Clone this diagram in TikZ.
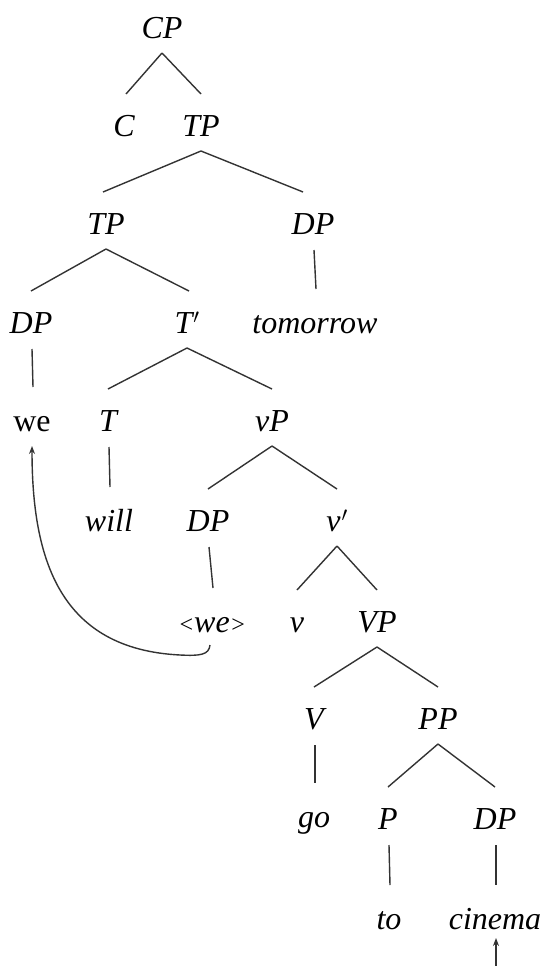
\documentclass[tikz,border=0pt]{standalone}
\usepackage{fontspec}
\setmainfont{Liberation Serif}
\usetikzlibrary{calc,arrows.meta}
\newcommand\treeedge[3][0]{\draw[edge] ($(#2.base)+(0,15)$) -- ($(#3.base)+(#1,-42)$);}
\newcommand\treeline[2]{\draw[edge] ($(#1.base)+(1,16)$) -- ($(#2.base)+(1,-44)$);}
\begin{document}
\begin{tikzpicture}[x=1pt,y=-1pt,
  lab/.style={anchor=base,inner sep=0pt,font=\fontsize{32}{38}\selectfont\itshape},
  word/.style={anchor=base,inner sep=0pt,font=\fontsize{32}{38}\selectfont},
  edge/.style={line width=1.4pt,draw=black!80}]
\useasboundingbox (0,0) rectangle (545,966);
\node[lab] (CP) at (162,38) {CP};
\node[lab] (C) at (124,136) {C};
\node[lab] (TPa) at (201,136) {TP};
\node[lab] (TPb) at (106,234) {TP};
\node[lab] (DPa) at (313,234) {DP};
\node[lab] (DPb) at (31,333) {DP};
\node[lab] (Tbar) at (187,333) {T\kern1pt$'$};
\node[lab] (tomorrow) at (315,333) {tomorrow};
\node[word] (we) at (32,431) {we};
\node[lab] (T) at (108,431) {T};
\node[lab] (vP) at (272,431) {vP};
\node[lab] (will) at (109,531) {will};
\node[lab] (DPc) at (208,531) {DP};
\node[lab] (vbar) at (337,531) {v\kern1pt$'$};
\node[lab] (twe) at (212,632) {{\fontsize{24}{24}\selectfont<}we{\fontsize{24}{24}\selectfont>}};
\node[lab] (v) at (297,632) {v};
\node[lab] (VP) at (377,632) {VP};
\node[lab] (V) at (314,729) {V};
\node[lab] (PP) at (438,729) {PP};
\node[lab] (go) at (314,827) {go};
\node[lab] (P) at (388,829) {P};
\node[lab] (DPd) at (495,829) {DP};
\node[lab] (to) at (389,929) {to};
\node[lab] (cinema) at (495,929) {cinema};
\coordinate (cbot) at (496,966);

\treeedge[2]{CP}{C}
\treeedge{CP}{TPa}
\treeedge[-3]{TPa}{TPb}
\treeedge[-10]{TPa}{DPa}
\treeedge{TPb}{DPb}
\treeedge[2]{TPb}{Tbar}
\treeline{DPa}{tomorrow}
\treeline{DPb}{we}
\treeedge{Tbar}{T}
\treeedge{Tbar}{vP}
\treeline{T}{will}
\treeedge{vP}{DPc}
\treeedge{vP}{vbar}
\treeline{DPc}{twe}
\treeedge{vbar}{v}
\treeedge{vbar}{VP}
\treeedge{VP}{V}
\treeedge{VP}{PP}
\treeline{V}{go}
\treeedge{PP}{P}
\treeedge{PP}{DPd}
\treeline{P}{to}
\treeline{DPd}{cinema}

\draw[edge,-{Stealth[length=8pt,width=6pt]}] ($(twe.base)+(-2,13)$)
  .. controls ($(twe.base)+(-3,23)$) and ($(twe.base)+(-12,24)$) .. ($(twe.base)+(-32,23)$)
  .. controls ($(we.base)+(28,218)$) and ($(we.base)+(0,129)$) .. ($(we.base)+(0,15)$);
\draw[edge,-{Stealth[length=8pt,width=6pt]}] (cbot) -- ($(cinema.base)+(1,9)$);
\end{tikzpicture}
\end{document}
